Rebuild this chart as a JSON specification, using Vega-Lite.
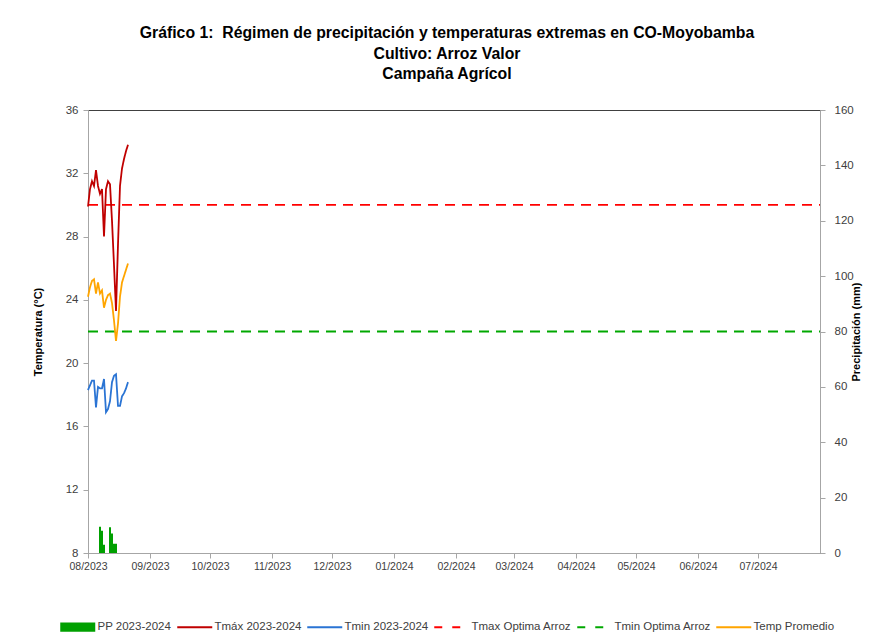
{
  "$schema": "https://vega.github.io/schema/vega-lite/v6.json",
  "width": 732,
  "height": 443,
  "autosize": {"type": "none"},
  "padding": {"left": 88, "top": 110, "right": 54, "bottom": 89},
  "background": "white",
  "config": {
    "font": "Liberation Sans",
    "view": {"stroke": "#404040", "strokeWidth": 1},
    "axis": {
      "labelColor": "#404040",
      "labelFontSize": 11.5,
      "domainColor": "#A6A6A6",
      "tickColor": "#A6A6A6",
      "grid": false,
      "titleColor": "#000000",
      "titleFontSize": 11,
      "titleFontWeight": "bold",
      "tickSize": 5
    }
  },
  "title": {
    "text": ["Gráfico 1:\u00a0 Régimen de precipitación y temperaturas extremas en CO-Moyobamba", "Cultivo: Arroz Valor", "Campaña Agrícol"],
    "fontSize": 15.8,
    "fontWeight": "bold",
    "color": "#000000",
    "lineHeight": 20.5,
    "offset": 21,
    "dx": -7,
    "anchor": "middle"
  },
  "data": {
    "values": [
      {"date": "2023-08-07", "serie": "PP 2023-2024", "valor": 9.5},
      {"date": "2023-08-08", "serie": "PP 2023-2024", "valor": 8.0},
      {"date": "2023-08-09", "serie": "PP 2023-2024", "valor": 3.0},
      {"date": "2023-08-12", "serie": "PP 2023-2024", "valor": 9.3},
      {"date": "2023-08-13", "serie": "PP 2023-2024", "valor": 7.0},
      {"date": "2023-08-14", "serie": "PP 2023-2024", "valor": 3.3},
      {"date": "2023-08-15", "serie": "PP 2023-2024", "valor": 3.3},

      {"date": "2023-08-01", "serie": "Tmax Optima Arroz", "valor": 30},
      {"date": "2024-08-01", "serie": "Tmax Optima Arroz", "valor": 30},
      {"date": "2023-08-01", "serie": "Tmin Optima Arroz", "valor": 22},
      {"date": "2024-08-01", "serie": "Tmin Optima Arroz", "valor": 22},

      {"date": "2023-08-01", "serie": "Tmáx 2023-2024", "valor": 29.9},
      {"date": "2023-08-02", "serie": "Tmáx 2023-2024", "valor": 31.0},
      {"date": "2023-08-03", "serie": "Tmáx 2023-2024", "valor": 31.5},
      {"date": "2023-08-04", "serie": "Tmáx 2023-2024", "valor": 31.2},
      {"date": "2023-08-05", "serie": "Tmáx 2023-2024", "valor": 32.2},
      {"date": "2023-08-06", "serie": "Tmáx 2023-2024", "valor": 31.2},
      {"date": "2023-08-07", "serie": "Tmáx 2023-2024", "valor": 30.7},
      {"date": "2023-08-08", "serie": "Tmáx 2023-2024", "valor": 31.0},
      {"date": "2023-08-09", "serie": "Tmáx 2023-2024", "valor": 28.0},
      {"date": "2023-08-10", "serie": "Tmáx 2023-2024", "valor": 31.0},
      {"date": "2023-08-11", "serie": "Tmáx 2023-2024", "valor": 31.5},
      {"date": "2023-08-12", "serie": "Tmáx 2023-2024", "valor": 31.3},
      {"date": "2023-08-13", "serie": "Tmáx 2023-2024", "valor": 29.0},
      {"date": "2023-08-14", "serie": "Tmáx 2023-2024", "valor": 26.2},
      {"date": "2023-08-15", "serie": "Tmáx 2023-2024", "valor": 23.3},
      {"date": "2023-08-16", "serie": "Tmáx 2023-2024", "valor": 27.5},
      {"date": "2023-08-17", "serie": "Tmáx 2023-2024", "valor": 31.2},
      {"date": "2023-08-18", "serie": "Tmáx 2023-2024", "valor": 32.3},
      {"date": "2023-08-19", "serie": "Tmáx 2023-2024", "valor": 32.9},
      {"date": "2023-08-20", "serie": "Tmáx 2023-2024", "valor": 33.4},
      {"date": "2023-08-21", "serie": "Tmáx 2023-2024", "valor": 33.8},

      {"date": "2023-08-01", "serie": "Tmin 2023-2024", "valor": 18.3},
      {"date": "2023-08-02", "serie": "Tmin 2023-2024", "valor": 18.6},
      {"date": "2023-08-03", "serie": "Tmin 2023-2024", "valor": 18.9},
      {"date": "2023-08-04", "serie": "Tmin 2023-2024", "valor": 18.9},
      {"date": "2023-08-05", "serie": "Tmin 2023-2024", "valor": 17.2},
      {"date": "2023-08-06", "serie": "Tmin 2023-2024", "valor": 18.5},
      {"date": "2023-08-07", "serie": "Tmin 2023-2024", "valor": 18.4},
      {"date": "2023-08-08", "serie": "Tmin 2023-2024", "valor": 18.4},
      {"date": "2023-08-09", "serie": "Tmin 2023-2024", "valor": 19.0},
      {"date": "2023-08-10", "serie": "Tmin 2023-2024", "valor": 16.9},
      {"date": "2023-08-11", "serie": "Tmin 2023-2024", "valor": 17.1},
      {"date": "2023-08-12", "serie": "Tmin 2023-2024", "valor": 17.6},
      {"date": "2023-08-13", "serie": "Tmin 2023-2024", "valor": 18.8},
      {"date": "2023-08-14", "serie": "Tmin 2023-2024", "valor": 19.2},
      {"date": "2023-08-15", "serie": "Tmin 2023-2024", "valor": 19.3},
      {"date": "2023-08-16", "serie": "Tmin 2023-2024", "valor": 17.3},
      {"date": "2023-08-17", "serie": "Tmin 2023-2024", "valor": 17.3},
      {"date": "2023-08-18", "serie": "Tmin 2023-2024", "valor": 17.9},
      {"date": "2023-08-19", "serie": "Tmin 2023-2024", "valor": 18.1},
      {"date": "2023-08-20", "serie": "Tmin 2023-2024", "valor": 18.4},
      {"date": "2023-08-21", "serie": "Tmin 2023-2024", "valor": 18.8},

      {"date": "2023-08-01", "serie": "Temp Promedio", "valor": 24.2},
      {"date": "2023-08-02", "serie": "Temp Promedio", "valor": 24.8},
      {"date": "2023-08-03", "serie": "Temp Promedio", "valor": 25.2},
      {"date": "2023-08-04", "serie": "Temp Promedio", "valor": 25.3},
      {"date": "2023-08-05", "serie": "Temp Promedio", "valor": 24.4},
      {"date": "2023-08-06", "serie": "Temp Promedio", "valor": 25.1},
      {"date": "2023-08-07", "serie": "Temp Promedio", "valor": 24.4},
      {"date": "2023-08-08", "serie": "Temp Promedio", "valor": 24.6},
      {"date": "2023-08-09", "serie": "Temp Promedio", "valor": 23.5},
      {"date": "2023-08-10", "serie": "Temp Promedio", "valor": 24.0},
      {"date": "2023-08-11", "serie": "Temp Promedio", "valor": 24.3},
      {"date": "2023-08-12", "serie": "Temp Promedio", "valor": 24.4},
      {"date": "2023-08-13", "serie": "Temp Promedio", "valor": 23.8},
      {"date": "2023-08-14", "serie": "Temp Promedio", "valor": 22.7},
      {"date": "2023-08-15", "serie": "Temp Promedio", "valor": 21.4},
      {"date": "2023-08-16", "serie": "Temp Promedio", "valor": 22.5},
      {"date": "2023-08-17", "serie": "Temp Promedio", "valor": 24.2},
      {"date": "2023-08-18", "serie": "Temp Promedio", "valor": 25.1},
      {"date": "2023-08-19", "serie": "Temp Promedio", "valor": 25.5},
      {"date": "2023-08-20", "serie": "Temp Promedio", "valor": 25.9},
      {"date": "2023-08-21", "serie": "Temp Promedio", "valor": 26.3}
    ]
  },
  "encoding": {
    "x": {
      "field": "date",
      "type": "temporal",
      "scale": {
        "type": "utc",
        "padding": 0,
        "domain": [
          {"year": 2023, "month": 8, "date": 1, "utc": true},
          {"year": 2024, "month": 8, "date": 1, "utc": true}
        ]
      },
      "axis": {
        "title": null,
        "labelExpr": "utcFormat(datum.value, '%m/%Y')",
        "labelFlush": false,
        "labelBound": false,
        "labelOverlap": false,
        "labelFontSize": 10.5,
        "labelPadding": 3,
        "values": [
          {"year": 2023, "month": 8, "date": 1, "utc": true},
          {"year": 2023, "month": 9, "date": 1, "utc": true},
          {"year": 2023, "month": 10, "date": 1, "utc": true},
          {"year": 2023, "month": 11, "date": 1, "utc": true},
          {"year": 2023, "month": 12, "date": 1, "utc": true},
          {"year": 2024, "month": 1, "date": 1, "utc": true},
          {"year": 2024, "month": 2, "date": 1, "utc": true},
          {"year": 2024, "month": 3, "date": 1, "utc": true},
          {"year": 2024, "month": 4, "date": 1, "utc": true},
          {"year": 2024, "month": 5, "date": 1, "utc": true},
          {"year": 2024, "month": 6, "date": 1, "utc": true},
          {"year": 2024, "month": 7, "date": 1, "utc": true}
        ]
      }
    },
    "color": {
      "field": "serie",
      "type": "nominal",
      "scale": {
        "domain": ["PP 2023-2024", "Tmáx 2023-2024", "Tmin 2023-2024", "Tmax Optima Arroz", "Tmin Optima Arroz", "Temp Promedio"],
        "range": ["#00A000", "#C00000", "#2A74D4", "#FF0000", "#00A800", "#FFA500"]
      },
      "legend": {
        "title": null,
        "orient": "none",
        "legendX": -16,
        "legendY": 511,
        "direction": "horizontal",
        "symbolType": "stroke",
        "symbolSize": 1225,
        "symbolStrokeWidth": 2,
        "labelFontSize": 11.5,
        "labelColor": "#404040",
        "labelOffset": 14,
        "columnPadding": 1,
        "encode": {
          "symbols": {
            "update": {
              "shape": {"signal": "datum.value == 'PP 2023-2024' ? 'M-1,-0.26H1V0.26H-1Z' : 'stroke'"},
              "fill": {"signal": "datum.value == 'PP 2023-2024' ? '#00A000' : 'transparent'"},
              "stroke": {"scale": "color", "field": "value"},
              "strokeDash": {"signal": "(datum.value == 'Tmax Optima Arroz' || datum.value == 'Tmin Optima Arroz') ? [8, 10] : [1, 0]"},
              "strokeWidth": {"signal": "datum.value == 'PP 2023-2024' ? 0 : 2"}
            }
          }
        }
      }
    }
  },
  "layer": [
    {
      "transform": [{"filter": "datum.serie == 'PP 2023-2024'"}],
      "mark": {"type": "bar", "width": 2},
      "encoding": {
        "y": {
          "field": "valor",
          "type": "quantitative",
          "scale": {"domain": [0, 160], "nice": false},
          "axis": {
            "orient": "right",
            "title": "Precipitación (mm)",
            "titleAngle": 270,
            "titlePadding": 8,
            "labelPadding": 9,
            "values": [0, 20, 40, 60, 80, 100, 120, 140, 160]
          }
        }
      }
    },
    {
      "transform": [{"filter": "datum.serie != 'PP 2023-2024'"}],
      "mark": {"type": "line", "strokeWidth": 1.8},
      "encoding": {
        "y": {
          "field": "valor",
          "type": "quantitative",
          "scale": {"domain": [8, 36], "nice": false},
          "axis": {
            "orient": "left",
            "title": "Temperatura (°C)",
            "titlePadding": 22,
            "labelPadding": 5,
            "values": [8, 12, 16, 20, 24, 28, 32, 36]
          }
        },
        "strokeDash": {
          "field": "serie",
          "type": "nominal",
          "scale": {
            "domain": ["Tmáx 2023-2024", "Tmin 2023-2024", "Tmax Optima Arroz", "Tmin Optima Arroz", "Temp Promedio"],
            "range": [[1, 0], [1, 0], [10, 7], [10, 7], [1, 0]]
          },
          "legend": null
        }
      }
    }
  ],
  "resolve": {"scale": {"y": "independent"}}
}
